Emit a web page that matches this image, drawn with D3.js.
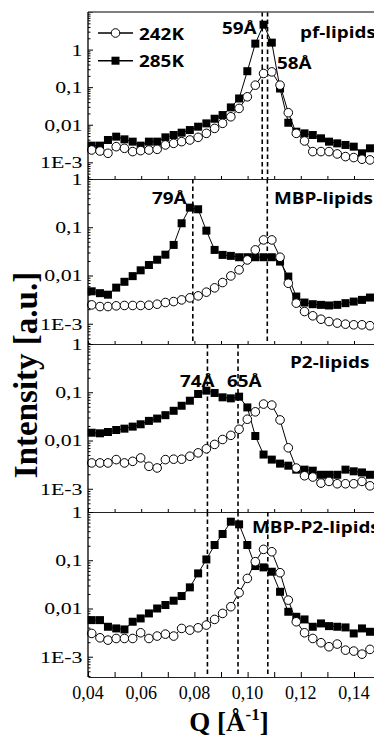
<!DOCTYPE html>
<html><head><meta charset="utf-8">
<script src="https://cdn.jsdelivr.net/npm/d3@7/dist/d3.min.js"></script>
<style>html,body{margin:0;padding:0;background:#fff;overflow:hidden}</style>
</head><body><svg id="c" width="374" height="738"></svg>
<script>
// ---------------- data ----------------
const Q = [0.0414,0.0445,0.0475,0.0506,0.0537,0.0568,0.0598,0.0629,0.0660,0.0691,0.0722,0.0752,0.0783,0.0814,0.0845,0.0876,0.0906,0.0937,0.0968,0.0999,0.1029,0.1060,0.1091,0.1122,0.1153,0.1183,0.1214,0.1245,0.1276,0.1306,0.1337,0.1368,0.1399,0.1430,0.1460];

const pf242 = [0.00213,0.0020,0.00174,0.00261,0.00236,0.00193,0.00205,0.00213,0.00222,0.0029,0.0032,0.00355,0.00393,0.00462,0.0059,0.0080,0.0109,0.0163,0.0272,0.0554,0.113,0.231,0.255,0.113,0.0209,0.0059,0.0037,0.00193,0.00193,0.00193,0.00167,0.00142,0.00134,0.00121,0.00116];
const pf285 = [0.00278,0.00278,0.00393,0.00482,0.00409,0.00355,0.00278,0.00355,0.00355,0.00462,0.00533,0.00615,0.00723,0.00887,0.01087,0.01445,0.0181,0.0289,0.050,0.266,1.44,4.6,1.53,0.092,0.0113,0.00653,0.0059,0.00533,0.00435,0.00355,0.0032,0.0029,0.00261,0.00174,0.00236];

const mbp242 = [0.00246,0.00227,0.00227,0.00235,0.00239,0.00239,0.00239,0.00242,0.00254,0.00275,0.00288,0.00312,0.00344,0.00378,0.00451,0.00554,0.00714,0.0098,0.0131,0.0210,0.0339,0.0546,0.0546,0.0239,0.0069,0.00267,0.00179,0.00146,0.00124,0.00111,0.00103,0.00098,0.00095,0.00095,0.00091];
const mbp285 = [0.0047,0.0043,0.0040,0.0056,0.0074,0.0097,0.0128,0.0165,0.0212,0.0270,0.043,0.121,0.255,0.236,0.085,0.0339,0.0267,0.0255,0.0239,0.0239,0.0239,0.0239,0.0239,0.0194,0.0095,0.00366,0.00275,0.00254,0.00246,0.00239,0.00246,0.00267,0.00288,0.00312,0.00349];

const p2_242 = [0.00343,0.00343,0.00343,0.00402,0.00343,0.0037,0.00436,0.00292,0.0027,0.00402,0.0041,0.0041,0.00472,0.00555,0.00673,0.0083,0.0105,0.0128,0.0171,0.0276,0.0393,0.0569,0.0542,0.0267,0.00706,0.00269,0.00186,0.00175,0.00131,0.00142,0.00127,0.00127,0.00127,0.00142,0.00115];
const p2_285 = [0.0145,0.0141,0.0150,0.0165,0.0176,0.0194,0.0217,0.0255,0.0285,0.0335,0.0413,0.0525,0.0668,0.0921,0.108,0.0967,0.0785,0.0748,0.0810,0.0485,0.0124,0.00512,0.00402,0.00332,0.00301,0.00249,0.00249,0.00237,0.00195,0.00195,0.00195,0.00249,0.0023,0.00218,0.00195];

const mbpp2_242 = [0.00304,0.00247,0.00221,0.00239,0.00239,0.00239,0.00314,0.00239,0.00268,0.00294,0.00268,0.00386,0.00356,0.00398,0.00453,0.00593,0.0079,0.0109,0.0212,0.042,0.0933,0.168,0.150,0.0551,0.0149,0.00531,0.00314,0.00239,0.00195,0.00161,0.00183,0.00137,0.00131,0.00113,0.00142];
const mbpp2_285 = [0.00574,0.00574,0.00418,0.00386,0.00368,0.00531,0.00622,0.0079,0.0100,0.0118,0.0145,0.0181,0.0274,0.0534,0.104,0.207,0.350,0.630,0.555,0.207,0.0758,0.0711,0.0578,0.0222,0.00855,0.00673,0.00593,0.00418,0.0049,0.00431,0.00418,0.00405,0.00304,0.00386,0.00329];

const panelNames = ["pf-lipids","MBP-lipids","P2-lipids","MBP-P2-lipids"];
const series242 = [pf242, mbp242, p2_242, mbpp2_242];
const series285 = [pf285, mbp285, p2_285, mbpp2_285];
const dashQ = [[0.1055,0.1075],[0.0794,0.1074],[0.0849,0.0964],[0.0849,0.0964,0.1076]];
const peakLabels = [["59Å","58Å"],["79Å"],["74Å","65Å"],[]];
const legendLabels = ["242K","285K"];
const xTicks = [0.04,0.06,0.08,0.10,0.12,0.14];
const xTickLabels = ["0,04","0,06","0,08","0,10","0,12","0,14"];
const yTicks = [1,0.1,0.01,0.001];
const yTickLabels = ["1","0,1","0,01","1E-3"];

// ---------------- layout ----------------
const svg = d3.select("#c");
svg.append("rect").attr("width",374).attr("height",738).attr("fill","#fff");
const x = d3.scaleLinear().domain([0.04,0.15]).range([88,380.6]);
const geom = [
  {top:12, bottom:179, dom:[3.6e-4,10]},
  {top:179,bottom:344, dom:[3.8e-4,1]},
  {top:344,bottom:512, dom:[3.3e-4,1]},
  {top:512,bottom:677, dom:[3.8e-4,1]}
];
const SANS = "'Open Sans', 'DejaVu Sans', sans-serif";
const SERIF = "'Liberation Serif', 'Times New Roman', serif";
const minorX = d3.range(4,16).map(v=>v/100);

// name / peak label positions [x, baseline]
const namePos = [[300,38.3],[274,204.3],[290,368.3],[252,532.7]];
const peakPos = [[[222,34.3],[277,69.3]],[[152,204.3]],[[180,386.7],[227,386.7]],[]];

function sansText(g, str, px, py){
  g.append("text").attr("transform",`translate(${px},${py}) scale(1.22,1)`)
    .attr("font-family",SANS).attr("font-weight",700).attr("font-size",15.5)
    .attr("fill","#000").text(str);
}

geom.forEach((G,i)=>{
  const y = d3.scaleLog().domain(G.dom).range([G.bottom,G.top]);
  const g = svg.append("g");

  // minor left ticks
  const lo = Math.floor(Math.log10(G.dom[0])), hi = Math.ceil(Math.log10(G.dom[1]));
  const minors = [];
  for(let e=lo;e<hi;e++) for(let m=2;m<=9;m++){const v=m*Math.pow(10,e); if(v>=G.dom[0]&&v<=G.dom[1]) minors.push(v);}
  const majors = [];
  for(let e=lo;e<=hi;e++){const v=Math.pow(10,e); if(v>=G.dom[0]&&v<=G.dom[1]) majors.push(v);}
  g.append("g").attr("transform","translate(88,0)")
    .call(d3.axisRight(y).tickValues(minors).tickSize(2.5).tickSizeOuter(0).tickFormat(""))
    .call(a=>a.select(".domain").remove());
  g.append("g").attr("transform","translate(88,0)")
    .call(d3.axisRight(y).tickValues(majors).tickSize(5).tickSizeOuter(0).tickFormat(""))
    .call(a=>a.select(".domain").remove());
  g.selectAll(".tick line").attr("stroke","#000").attr("stroke-width",1);

  // bottom line of panel with inward x ticks
  const ax = g.append("g").attr("transform",`translate(0,${G.bottom})`)
    .call(d3.axisTop(x).tickValues(minorX).tickSizeInner(i===3?5:3).tickSizeOuter(0).tickFormat(""));
  ax.select(".domain").attr("stroke","#222").attr("stroke-width",1.2);
  ax.selectAll(".tick line").attr("stroke","#000");

  // y tick labels
  yTicks.forEach((v,j)=>{
    if(v<G.dom[0]||v>G.dom[1]) return;
    g.append("text").attr("transform",`translate(82.5,${y(v)}) scale(1.25,1)`)
      .attr("text-anchor","end").attr("dy","0.34em")
      .attr("font-family",SERIF).attr("font-size",17.5).attr("fill","#000")
      .text(yTickLabels[j]);
  });

  // dashed lines
  dashQ[i].forEach(q=>{
    g.append("line").attr("x1",x(q)).attr("x2",x(q)).attr("y1",G.top).attr("y2",G.bottom)
      .attr("stroke","#000").attr("stroke-width",1.6).attr("stroke-dasharray","4.5,3");
  });

  const pts285 = Q.map((q,k)=>[q,series285[i][k]]);
  const pts242 = Q.map((q,k)=>[q,series242[i][k]]);
  const line = d3.line().x(d=>x(d[0])).y(d=>y(d[1]));

  g.append("path").attr("d",line(pts285)).attr("fill","none").attr("stroke","#000").attr("stroke-width",1);
  g.selectAll(null).data(pts285).enter().append("rect")
    .attr("x",d=>x(d[0])-4).attr("y",d=>y(d[1])-4).attr("width",8).attr("height",8).attr("fill","#000");

  g.append("path").attr("d",line(pts242)).attr("fill","none").attr("stroke","#000").attr("stroke-width",1);
  g.selectAll(null).data(pts242).enter().append("circle")
    .attr("cx",d=>x(d[0])).attr("cy",d=>y(d[1])).attr("r",4.3)
    .attr("fill","#fff").attr("stroke","#000").attr("stroke-width",1);

  // labels
  sansText(g, panelNames[i], namePos[i][0], namePos[i][1]);
  peakLabels[i].forEach((s,j)=>sansText(g, s, peakPos[i][j][0], peakPos[i][j][1]));
});

// frame: top line and left axis line
svg.append("line").attr("x1",88).attr("x2",380.6).attr("y1",12).attr("y2",12).attr("stroke","#555").attr("stroke-width",1.3);
svg.append("line").attr("x1",88).attr("x2",88).attr("y1",12).attr("y2",677).attr("stroke","#000").attr("stroke-width",1.3);

// x tick labels
xTicks.forEach((v,j)=>{
  svg.append("text").attr("x",x(v)).attr("y",698.5).attr("text-anchor","middle")
    .attr("font-family",SERIF).attr("font-size",18).attr("fill","#000").text(xTickLabels[j]);
});

// legend (panel 1)
const legY = [33,60.7];
legendLabels.forEach((lab,j)=>{
  const lg = svg.append("g");
  lg.append("line").attr("x1",98).attr("x2",133).attr("y1",legY[j]).attr("y2",legY[j]).attr("stroke","#000").attr("stroke-width",1.5);
  if(j===0) lg.append("circle").attr("cx",115.5).attr("cy",legY[j]).attr("r",4.3).attr("fill","#fff").attr("stroke","#000");
  else lg.append("rect").attr("x",111.5).attr("y",legY[j]-4).attr("width",8).attr("height",8).attr("fill","#000");
  sansText(lg, lab, 139, legY[j]+6.5);
});

// axis titles
svg.append("text").attr("transform","translate(37,375) rotate(-90)").attr("text-anchor","middle")
  .attr("font-family",SERIF).attr("font-weight",700).attr("font-size",33).attr("fill","#000")
  .text("Intensity [a.u.]");
const xt = svg.append("text").attr("x",229).attr("y",731).attr("text-anchor","middle")
  .attr("font-family",SERIF).attr("font-weight",700).attr("font-size",27).attr("fill","#000");
xt.append("tspan").text("Q [Å");
xt.append("tspan").attr("font-size",17).attr("dy",-11).text("-1");
xt.append("tspan").attr("dy",11).text("]");
</script></body></html>
